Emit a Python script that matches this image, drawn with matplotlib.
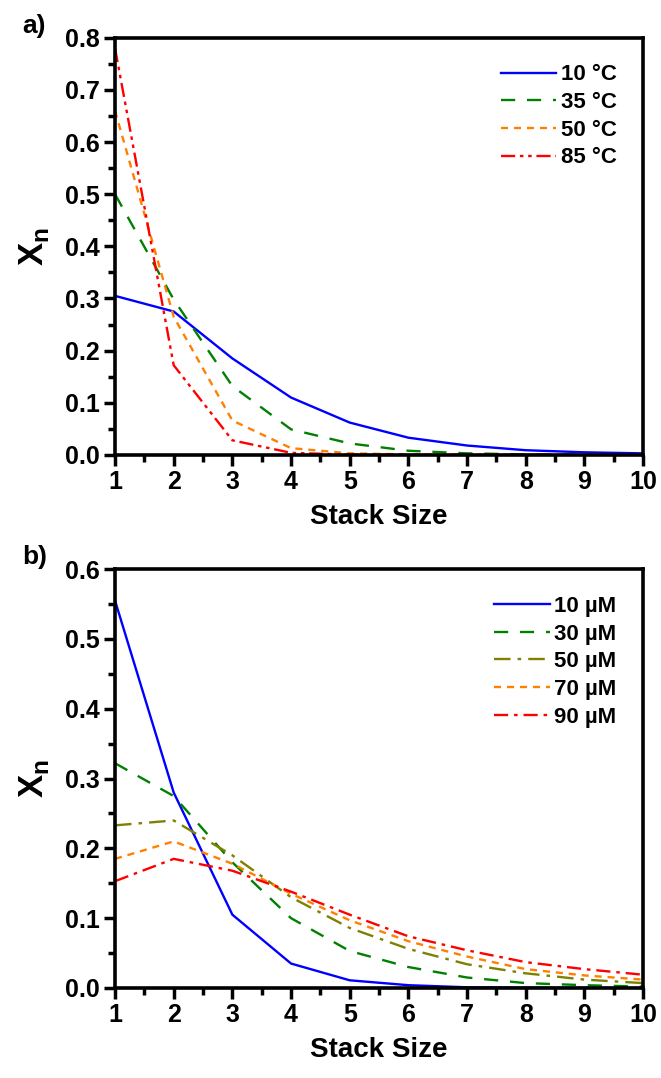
import matplotlib
matplotlib.use("Agg")
import matplotlib.pyplot as plt

plt.rcParams['font.family'] = ['Liberation Sans', 'DejaVu Sans']
plt.rcParams['font.weight'] = 'bold'
plt.rcParams['mathtext.fontset'] = 'custom'
plt.rcParams['mathtext.rm'] = 'Liberation Sans'
plt.rcParams['mathtext.bf'] = 'Liberation Sans:bold'

stack_size = [1, 2, 3, 4, 5, 6, 7, 8, 9, 10]

# panel a: temperature series
temp_labels = ['10 °C', '35 °C', '50 °C', '85 °C']
x_10C = [0.305, 0.275, 0.185, 0.11, 0.062, 0.033, 0.018, 0.009, 0.005, 0.003]
x_35C = [0.50, 0.298, 0.132, 0.049, 0.022, 0.008, 0.003, 0.001, 0.0005, 0.0002]
x_50C = [0.66, 0.265, 0.066, 0.013, 0.003, 0.001, 0.0003, 0.0001, 0.0, 0.0]
x_85C = [0.78, 0.172, 0.028, 0.004, 0.0005, 0.0001, 0.0, 0.0, 0.0, 0.0]

# panel b: concentration series
conc_labels = ['10 µM', '30 µM', '50 µM', '70 µM', '90 µM']
x_10uM = [0.555, 0.28, 0.105, 0.035, 0.011, 0.004, 0.001, 0.0005, 0.0002, 0.0001]
x_30uM = [0.322, 0.275, 0.18, 0.10, 0.053, 0.03, 0.015, 0.007, 0.004, 0.002]
x_50uM = [0.233, 0.24, 0.19, 0.13, 0.086, 0.056, 0.034, 0.021, 0.012, 0.007]
x_70uM = [0.185, 0.21, 0.178, 0.135, 0.097, 0.067, 0.045, 0.027, 0.018, 0.012]
x_90uM = [0.153, 0.185, 0.168, 0.138, 0.105, 0.074, 0.054, 0.037, 0.027, 0.019]

fig = plt.figure(figsize=(6.61, 10.78), dpi=100)
ax1 = fig.add_axes([0.174, 0.578, 0.799, 0.387])
ax2 = fig.add_axes([0.174, 0.0835, 0.799, 0.3885])

lw = 1.7
ax1.plot(stack_size, x_10C, color='#0000ff', lw=lw, label=temp_labels[0])
ax1.plot(stack_size, x_35C, color='#008000', lw=lw, dashes=(6, 5), label=temp_labels[1])
ax1.plot(stack_size, x_50C, color='#ff8000', lw=lw, dashes=(3, 2.5), label=temp_labels[2])
ax1.plot(stack_size, x_85C, color='#ff0000', lw=lw, dashes=(6, 2, 1.5, 2, 1.5, 2), label=temp_labels[3])

ax2.plot(stack_size, x_10uM, color='#0000ff', lw=lw, label=conc_labels[0])
ax2.plot(stack_size, x_30uM, color='#008000', lw=lw, dashes=(6, 5), label=conc_labels[1])
ax2.plot(stack_size, x_50uM, color='#808000', lw=lw, dashes=(7, 3, 1.5, 3), label=conc_labels[2])
ax2.plot(stack_size, x_70uM, color='#ff8000', lw=lw, dashes=(3, 2.5), label=conc_labels[3])
ax2.plot(stack_size, x_90uM, color='#ff0000', lw=lw, dashes=(6, 2.5, 1.5, 2.5), label=conc_labels[4])

for ax, ymax, panel in [(ax1, 0.8, 'a)'), (ax2, 0.6, 'b)')]:
    ax.set_xlim(1, 10)
    ax.set_ylim(0, ymax)
    ax.set_xticks(stack_size)
    ax.set_xticks([x + 0.5 for x in stack_size[:-1]], minor=True)
    ax.set_yticks([i / 10 for i in range(int(round(ymax * 10)) + 1)])
    ax.set_yticks([i / 20 for i in range(1, int(round(ymax * 20)), 2)], minor=True)
    ax.set_yticklabels(['%.1f' % (i / 10) for i in range(int(round(ymax * 10)) + 1)])
    ax.tick_params(which='major', direction='out', length=8, width=2.5, labelsize=18, pad=3)
    ax.tick_params(which='minor', direction='out', length=5, width=2.5)
    for s in ax.spines.values():
        s.set_linewidth(2.6)
    ax.set_xlabel('Stack Size', fontsize=20, fontweight='bold', labelpad=7)
    ax.set_ylabel(r'$\mathbf{X}_{\mathrm{n}}$', fontsize=25, labelpad=10)
    ax.text(-0.175, 1.0, panel, transform=ax.transAxes, fontsize=19, fontweight='bold', va='bottom')
    ax.legend(loc='upper right', frameon=False, fontsize=16, handlelength=2.5,
              handletextpad=0.2, labelspacing=0.3, borderaxespad=0.8)

fig.savefig('out.png', dpi=100)
